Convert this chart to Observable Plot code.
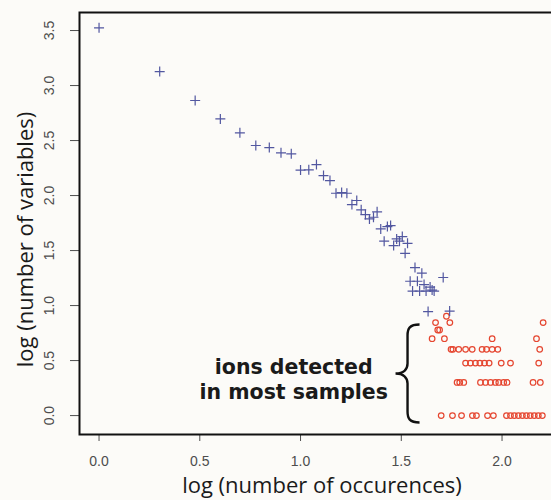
<!DOCTYPE html>
<html><head><meta charset="utf-8">
<script src="https://cdn.jsdelivr.net/npm/d3@7"></script>
<script src="https://cdn.jsdelivr.net/npm/@observablehq/plot@0.6"></script>
<style>
html,body{margin:0;padding:0;background:#fcfbf8;overflow:hidden;width:551px;height:500px;}
#chart{width:551px;height:500px;overflow:hidden;}
#chart svg{max-width:none !important;display:block;}
</style></head><body><div id="chart"></div>
<script>
// log(number of occurences) vs log(number of variables) — blue "+" series
const blueX = [0.000, 0.301, 0.477, 0.602, 0.699, 0.778, 0.845, 0.903, 0.954, 1.000,
  1.041, 1.079, 1.114, 1.146, 1.176, 1.204, 1.230, 1.255, 1.279, 1.301,
  1.322, 1.342, 1.362, 1.380, 1.398, 1.415, 1.431, 1.447, 1.462, 1.477,
  1.491, 1.505, 1.519, 1.531, 1.544, 1.556, 1.568, 1.580, 1.591, 1.602,
  1.613, 1.623, 1.633, 1.643, 1.653, 1.663, 1.708, 1.740];
const blueY = [3.525, 3.127, 2.864, 2.697, 2.570, 2.455, 2.436, 2.388, 2.379, 2.232,
  2.234, 2.282, 2.182, 2.136, 2.021, 2.027, 2.021, 1.918, 1.955, 1.870,
  1.827, 1.788, 1.803, 1.852, 1.697, 1.585, 1.718, 1.727, 1.545, 1.606,
  1.585, 1.627, 1.475, 1.566, 1.221, 1.132, 1.345, 1.221, 1.132, 1.294,
  1.191, 1.132, 0.945, 1.168, 1.141, 1.132, 1.255, 0.950];

// red open-circle series (ions detected in most samples)
const redX = [1.724,
  1.670, 1.741, 2.204,
  1.681, 1.690,
  1.653, 1.714, 1.951, 2.171,
  1.747, 1.756, 1.785, 1.819, 1.852, 1.901, 1.923, 1.951, 1.979, 2.187,
  1.819, 1.843, 1.868, 1.890, 1.913, 1.936, 1.996, 2.042, 2.182,
  1.777, 1.790, 1.810, 1.893, 1.918, 1.943, 1.967, 1.984, 2.008, 2.025, 2.154, 2.190,
  1.698, 1.754, 1.799, 1.853, 1.873, 1.928, 1.957, 2.022, 2.042, 2.061, 2.081, 2.101, 2.121, 2.140, 2.160, 2.180, 2.200];
const redY = [0.903,
  0.845, 0.845, 0.845,
  0.778, 0.778,
  0.699, 0.699, 0.699, 0.699,
  0.602, 0.602, 0.602, 0.602, 0.602, 0.602, 0.602, 0.602, 0.602, 0.602,
  0.477, 0.477, 0.477, 0.477, 0.477, 0.477, 0.477, 0.477, 0.477,
  0.301, 0.301, 0.301, 0.301, 0.301, 0.301, 0.301, 0.301, 0.301, 0.301, 0.301, 0.301,
  0, 0, 0, 0, 0, 0, 0, 0, 0, 0, 0, 0, 0, 0, 0, 0, 0];

const xTicks = [0, 0.5, 1, 1.5, 2];
const yTicks = [0, 0.5, 1, 1.5, 2, 2.5, 3, 3.5];
const xLabel = "log (number of occurences)";
const yLabel = "log (number of variables)";
const noteText = "ions detected\nin most samples";
const note = [{x: 0.966, y: 0.334, text: noteText}];
const brace = [{x: 1.531, y: 0.382}];

const blue = blueX.map((x, i) => ({x, y: blueY[i]}));
const red = redX.map((x, i) => ({x, y: redY[i]}));

const plusSymbol = {draw(ctx) { const r = 5; ctx.moveTo(-r, 0); ctx.lineTo(r, 0); ctx.moveTo(0, -r); ctx.lineTo(0, r); }};
const braceSymbol = {draw(ctx) {
  ctx.moveTo(12, -49); ctx.bezierCurveTo(2, -49, 0, -45, 0, -38); ctx.lineTo(0, -10);
  ctx.bezierCurveTo(0, -4, -4, 0, -12, 0); ctx.bezierCurveTo(-4, 0, 0, 4, 0, 10);
  ctx.lineTo(0, 38); ctx.bezierCurveTo(0, 45, 2, 49, 12, 49);
}};

const fmt = d3.format(".1f");

const chart = Plot.plot({
  width: 566, height: 500,
  marginLeft: 79, marginRight: 2, marginTop: 12, marginBottom: 66,
  style: {background: "#fcfbf8", fontFamily: "'Liberation Sans', Arial, sans-serif", fontSize: "14px", color: "#4d4d4d"},
  x: {domain: [-0.097, 2.31], ticks: xTicks, tickFormat: fmt, tickSize: 7, tickPadding: 15, label: null},
  y: {domain: [-0.172, 3.664], ticks: yTicks, tickFormat: () => "", tickSize: 9, label: null},
  marks: [
    Plot.text(yTicks, {y: d => d, text: d => fmt(d), frameAnchor: "left", dx: -30, rotate: -90,
      textAnchor: "middle", lineAnchor: "middle", fill: "#4d4d4d", fontSize: 14}),
    Plot.dot(red, {x: "x", y: "y", r: 2.8, stroke: "#e5452f", fill: "none", strokeWidth: 1.2}),
    Plot.dot(blue, {x: "x", y: "y", symbol: plusSymbol, stroke: "#5257a0", fill: "none", strokeWidth: 1.2}),
    Plot.dot(brace, {x: "x", y: "y", symbol: braceSymbol, stroke: "#111", fill: "none", strokeWidth: 2.4}),
    Plot.text(note, {x: "x", y: "y", text: "text", fontFamily: "'DejaVu Sans', sans-serif", fontWeight: "bold",
      fontSize: 20.5, lineHeight: 1.18, textAnchor: "middle", lineAnchor: "middle", fill: "#1a1a1a"}),
    Plot.text([xLabel], {text: d => d, frameAnchor: "bottom", dy: 51, lineAnchor: "middle",
      fontFamily: "'Open Sans', sans-serif", fontSize: 22, fill: "#1a1a1a"}),
    Plot.text([yLabel], {text: d => d, frameAnchor: "left", dx: -54, dy: 16, rotate: -90, lineAnchor: "middle",
      textAnchor: "middle", fontFamily: "'Open Sans', sans-serif", fontSize: 22, fill: "#1a1a1a"}),
    Plot.frame({stroke: "#111", strokeWidth: 2})
  ]
});
document.getElementById("chart").appendChild(chart);
</script>
</body></html>
